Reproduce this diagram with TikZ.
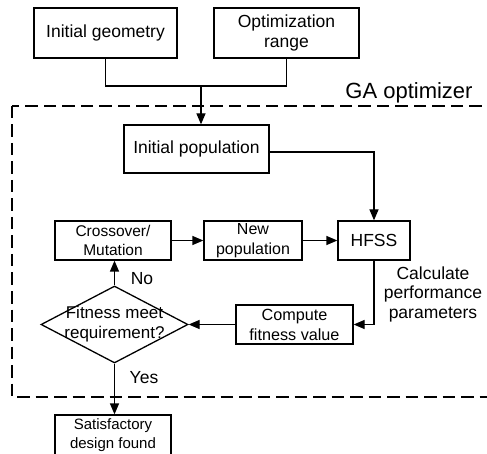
\documentclass[tikz,border=0pt]{standalone}
\usepackage{fontspec}
\setmainfont{Liberation Sans}
\usetikzlibrary{arrows.meta,shapes.geometric}
\begin{document}
\begin{tikzpicture}[x=1pt,y=-1pt,
  every path/.style={line width=1.3pt},
  box/.style={draw, line width=1.3pt, align=center, inner sep=0pt, font=\fontsize{17.5}{20}\selectfont},
  sbox/.style={draw, line width=1.3pt, align=center, inner sep=0pt, font=\fontsize{15.5}{19}\selectfont},
  lbl/.style={align=center, inner sep=0pt, font=\fontsize{17.5}{19.5}\selectfont},
  arr/.style={-{Triangle[length=11pt,width=9pt]}},
  gadash/.style={draw, line width=1.4pt, dash pattern=on 12.5pt off 6pt}]
\useasboundingbox (0,0) rectangle (487,454);
% dashed GA region
\draw[gadash] (12,106) rectangle (520,397);
\node[lbl, anchor=base, font=\fontsize{22}{24}\selectfont] (ga) at (409,99) {GA optimizer};
% boxes
\node[box, minimum width=143pt, minimum height=50pt] (ig) at (105.5,33) {Initial geometry};
\node[box, minimum width=145pt, minimum height=50pt] (or) at (286.5,33) {Optimization\\range};
\node[box, minimum width=145pt, minimum height=48pt] (ip) at (196.5,149) {Initial population};
\node[box, minimum width=72pt, minimum height=39pt] (hfss) at (374,240.5) {HFSS};
\node[sbox, font=\fontsize{16}{20}\selectfont, minimum width=98pt, minimum height=39pt] (np) at (253,240.5) {New\\population};
\node[sbox, minimum width=116pt, minimum height=39pt] (cm) at (113,240.5) {Crossover/\\Mutation};
\node[sbox, font=\fontsize{16.2}{20}\selectfont, minimum width=117pt, minimum height=39pt] (cf) at (294.5,324.5) {Compute\\fitness value};
\node[draw, diamond, line width=1.3pt, minimum width=147pt, minimum height=77pt, inner sep=0pt] (dec) at (114.5,324.5) {};
\node[lbl, font=\fontsize{17}{20}\selectfont] (dectext) at (114.5,324.5) {Fitness meet\\requirement?};
\node[sbox, font=\fontsize{15}{19}\selectfont, minimum width=116pt, minimum height=40pt] (sd) at (113,435) {Satisfactory\\design found};
% labels
\node[lbl] (no) at (142,279) {No};
\node[lbl] (yes) at (144,378) {Yes};
\node[lbl] (calc) at (433,294) {Calculate\\performance\\parameters};
% connectors
\coordinate (j) at (201,86);
\draw (ig.south) -- (ig.south |- j) -- (or.south |- j) -- (or.south);
\draw[arr] (j) -- (j |- ip.north);
\draw[arr] (ip.east |- 0,152) -- (hfss.north |- 0,152) -- (hfss.north);
\draw[arr] (cm) -- (np);
\draw[arr] (np) -- (hfss);
\draw[arr] (hfss.south) -- (hfss.south |- cf.east) -- (cf.east);
\draw[arr] (cf.west) -- (dec.east);
\draw[arr] (dec.north) -- (dec.north |- cm.south);
\draw[arr] (dec.south) -- (dec.south |- sd.north);
\end{tikzpicture}
\end{document}
